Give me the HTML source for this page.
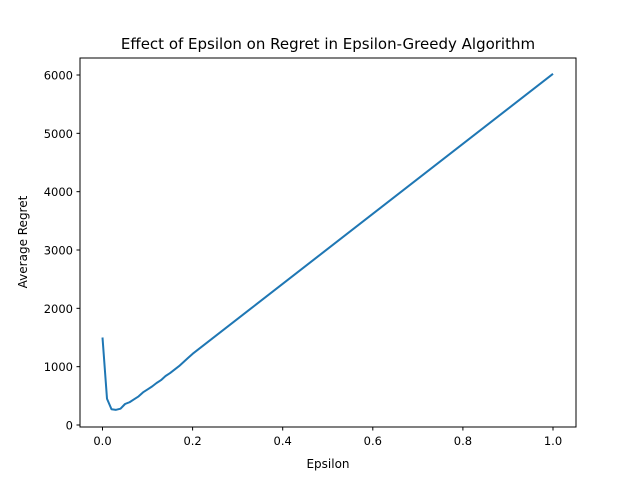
<!DOCTYPE html>
<html><head><meta charset="utf-8"><style>
body{margin:0;background:#fff}
svg text{font-family:"DejaVu Sans","Liberation Sans",sans-serif;fill:#000}
</style></head><body>
<svg id="chart" width="640" height="480" xmlns="http://www.w3.org/2000/svg">
<rect width="640" height="480" fill="#fff"/>
<text x="328" y="49" font-size="15" text-anchor="middle">Effect of Epsilon on Regret in Epsilon-Greedy Algorithm</text>
<g id="plot"></g>
<rect x="80" y="58" width="496" height="369" fill="none" stroke="#000" stroke-width="1"/>
<text x="328" y="468" font-size="12" text-anchor="middle">Epsilon</text>
<text transform="translate(27,242) rotate(-90)" font-size="12" text-anchor="middle">Average Regret</text>
</svg>
<script>
const xTicks=[0,0.2,0.4,0.6,0.8,1.0];
const xTickLabels=["0.0","0.2","0.4","0.6","0.8","1.0"];
const yTicks=[0,1000,2000,3000,4000,5000,6000];
const yTickLabels=["0","1000","2000","3000","4000","5000","6000"];
const epsilons=[];
for(let i=0;i<=100;i++)epsilons.push(i/100);
const regret=[1500,450,270,260,280,360,390,440,490,560,610,
660,720,770,840,890,950,1010,1080,1150,1220,
1280,1340,1400,1460,1520,1580,1640,1700,1760,1820,
1880,1940,2000,2060,2120,2180,2240,2300,2360,2420,
2480,2540,2600,2660,2720,2780,2840,2900,2960,3020,
3080,3140,3200,3260,3320,3380,3440,3500,3560,3620,
3680,3740,3800,3860,3920,3980,4040,4100,4160,4220,
4280,4340,4400,4460,4520,4580,4640,4700,4760,4820,
4880,4940,5000,5060,5120,5180,5240,5300,5360,5420,
5480,5540,5600,5660,5720,5780,5840,5900,5960,6020];
const X=v=>102.5+v*450.5;
const Y=v=>425-v*0.058333;
const g=document.getElementById('plot');
const ns='http://www.w3.org/2000/svg';
function mk(t,a){const e=document.createElementNS(ns,t);for(const k in a)e.setAttribute(k,a[k]);g.appendChild(e);return e;}
xTicks.forEach((t,i)=>{
 const l=mk('line',{x1:X(t),x2:X(t),y1:427,y2:430.5,stroke:'#000'});
 
 
 const tx=mk('text',{x:X(t),y:445,'font-size':11.5,'text-anchor':'middle'});
 tx.textContent=xTickLabels[i];
 
 
});
yTicks.forEach((t,i)=>{
 const l=mk('line',{x1:76.5,x2:80,y1:Y(t),y2:Y(t),stroke:'#000'});
 
 
 const tx=mk('text',{x:73,y:Y(t)+4.5,'font-size':11.5,'text-anchor':'end'});
 tx.textContent=yTickLabels[i];
 
 
});
const p=mk('polyline',{points:epsilons.map((e,i)=>X(e)+','+Y(regret[i])).join(' '),fill:'none',stroke:'#1f77b4','stroke-width':2,'stroke-linejoin':'round'});


</script>
</body></html>
